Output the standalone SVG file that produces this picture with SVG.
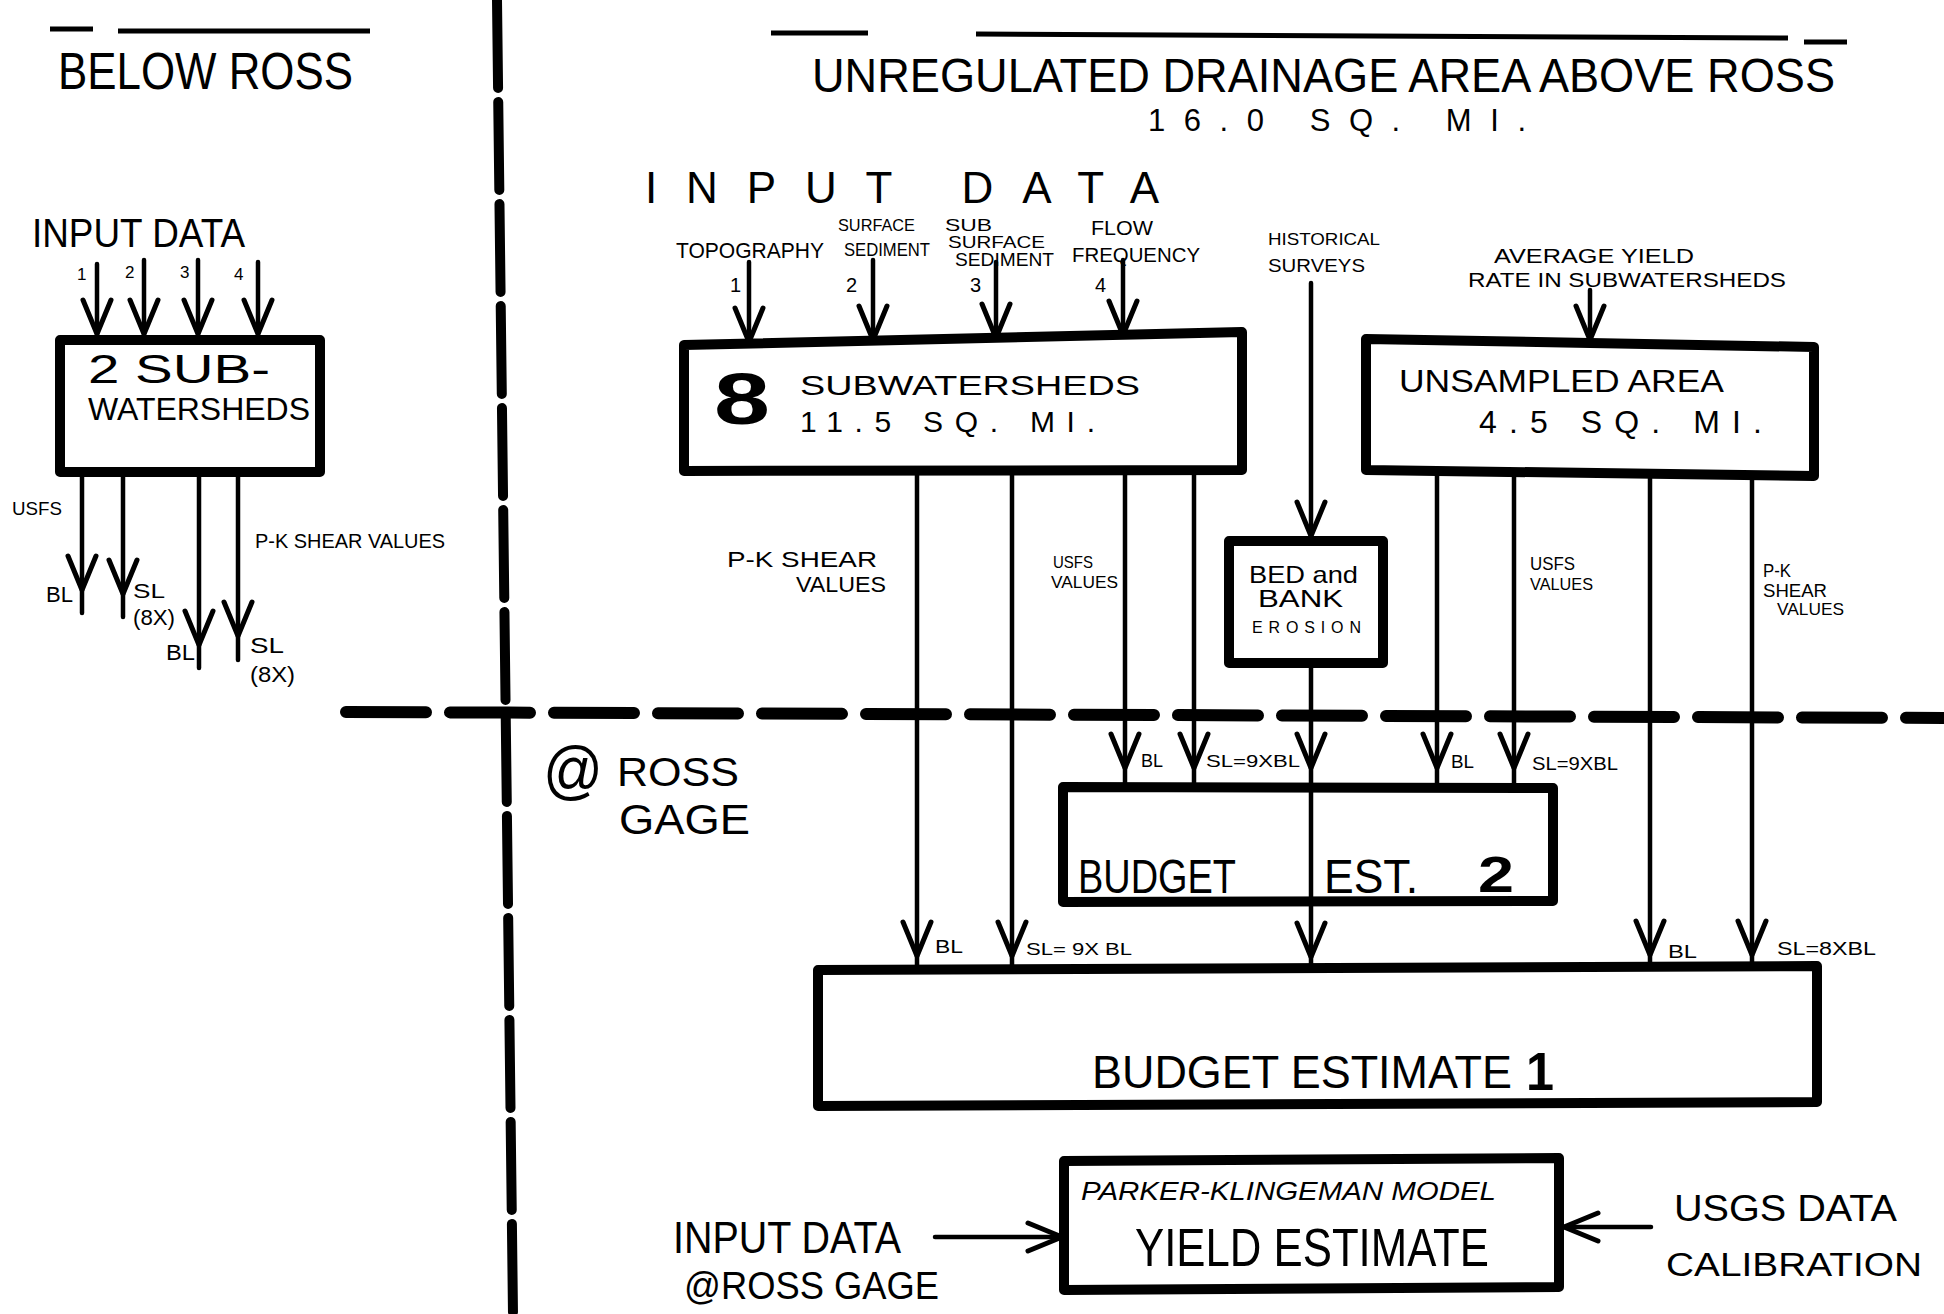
<svg xmlns="http://www.w3.org/2000/svg" width="1944" height="1314" viewBox="0 0 1944 1314">
<defs>
<style>
.t{font-family:"Liberation Sans",Arial,sans-serif;fill:#000;}
.b{font-weight:bold;}
.box{fill:none;stroke:#000;stroke-width:10;stroke-linejoin:round;stroke-linecap:round;}
.ln{fill:none;stroke:#000;stroke-width:4.5;stroke-linecap:round;}
.dash{fill:none;stroke:#000;stroke-linecap:round;}
.rule{fill:none;stroke:#000;stroke-width:5;}
</style>
<marker id="v" markerUnits="userSpaceOnUse" markerWidth="60" markerHeight="60" viewBox="-50 -30 60 60" refX="0" refY="0" orient="auto" overflow="visible">
<path d="M-34,-14 L0,0 L-34,14" fill="none" stroke="#000" stroke-width="5" stroke-linecap="round" stroke-linejoin="round"/>
</marker>
</defs>
<rect width="1944" height="1314" fill="#fff"/>

<g id="dividers">
<path class="dash" d="M497,0 L513,1314" stroke-width="10" stroke-dasharray="88 14"/>
<path class="dash" d="M346,712 L1944,718" stroke-width="12" stroke-dasharray="80 24"/>
</g>

<g id="titles">
<path class="rule" d="M50,29 L93,29 M118,31 L370,31"/>
<text class="t" x="58" y="89" font-size="52" textLength="295" lengthAdjust="spacingAndGlyphs">BELOW ROSS</text>
<path class="rule" d="M771,33 L868,33 M976,34 L1788,38 M1804,42 L1847,42"/>
<text class="t" x="812" y="92" font-size="48" textLength="1023" lengthAdjust="spacingAndGlyphs">UNREGULATED DRAINAGE AREA ABOVE ROSS</text>
<text class="t" x="1148" y="131" font-size="31" textLength="378" lengthAdjust="spacing">16.0 SQ. MI.</text>
<text class="t" x="543" y="792" font-size="64" textLength="60" lengthAdjust="spacingAndGlyphs">@</text>
<text class="t" x="617" y="786" font-size="40" textLength="122" lengthAdjust="spacingAndGlyphs">ROSS</text>
<text class="t" x="619" y="834" font-size="42" textLength="131" lengthAdjust="spacingAndGlyphs">GAGE</text>
</g>

<g id="left-inputs">
<text class="t" x="32" y="247" font-size="40" textLength="213" lengthAdjust="spacingAndGlyphs">INPUT DATA</text>
<text class="t" x="77" y="280" font-size="17">1</text>
<text class="t" x="125" y="278" font-size="17">2</text>
<text class="t" x="180" y="278" font-size="17">3</text>
<text class="t" x="234" y="280" font-size="17">4</text>
</g>

<g id="node-left-subwatersheds">
<path class="box" d="M60,340 L320,340 L320,472 L60,472 Z"/>
<text class="t" x="88" y="383" font-size="40" textLength="182" lengthAdjust="spacingAndGlyphs">2 SUB-</text>
<text class="t" x="88" y="420" font-size="32" textLength="222" lengthAdjust="spacingAndGlyphs">WATERSHEDS</text>
</g>

<g id="left-outputs-labels">
<text class="t" x="12" y="515" font-size="18" textLength="50" lengthAdjust="spacingAndGlyphs">USFS</text>
<text class="t" x="255" y="548" font-size="20" textLength="190" lengthAdjust="spacingAndGlyphs">P-K SHEAR VALUES</text>
<text class="t" x="46" y="602" font-size="22" textLength="27" lengthAdjust="spacingAndGlyphs">BL</text>
<text class="t" x="133" y="598" font-size="20" textLength="32" lengthAdjust="spacingAndGlyphs">SL</text>
<text class="t" x="133" y="625" font-size="22" textLength="42" lengthAdjust="spacingAndGlyphs">(8X)</text>
<text class="t" x="166" y="660" font-size="22" textLength="29" lengthAdjust="spacingAndGlyphs">BL</text>
<text class="t" x="250" y="653" font-size="22" textLength="34" lengthAdjust="spacingAndGlyphs">SL</text>
<text class="t" x="250" y="682" font-size="22" textLength="45" lengthAdjust="spacingAndGlyphs">(8X)</text>
</g>

<g id="right-inputs">
<text class="t" x="645" y="203" font-size="44" textLength="514" lengthAdjust="spacing">INPUT DATA</text>
<text class="t" x="676" y="258" font-size="22" textLength="148" lengthAdjust="spacingAndGlyphs">TOPOGRAPHY</text>
<text class="t" x="838" y="231" font-size="17" textLength="77" lengthAdjust="spacingAndGlyphs">SURFACE</text>
<text class="t" x="844" y="256" font-size="18" textLength="86" lengthAdjust="spacingAndGlyphs">SEDIMENT</text>
<text class="t" x="945" y="231" font-size="17" textLength="47" lengthAdjust="spacingAndGlyphs">SUB</text>
<text class="t" x="948" y="248" font-size="17" textLength="97" lengthAdjust="spacingAndGlyphs">SURFACE</text>
<text class="t" x="955" y="266" font-size="18" textLength="99" lengthAdjust="spacingAndGlyphs">SEDIMENT</text>
<text class="t" x="1091" y="235" font-size="20" textLength="62" lengthAdjust="spacingAndGlyphs">FLOW</text>
<text class="t" x="1072" y="262" font-size="20" textLength="128" lengthAdjust="spacingAndGlyphs">FREQUENCY</text>
<text class="t" x="730" y="292" font-size="20">1</text>
<text class="t" x="846" y="292" font-size="20">2</text>
<text class="t" x="970" y="292" font-size="20">3</text>
<text class="t" x="1095" y="292" font-size="20">4</text>
<text class="t" x="1268" y="245" font-size="17" textLength="112" lengthAdjust="spacingAndGlyphs">HISTORICAL</text>
<text class="t" x="1268" y="272" font-size="18" textLength="97" lengthAdjust="spacingAndGlyphs">SURVEYS</text>
<text class="t" x="1494" y="263" font-size="20" textLength="200" lengthAdjust="spacingAndGlyphs">AVERAGE YIELD</text>
<text class="t" x="1468" y="287" font-size="20" textLength="318" lengthAdjust="spacingAndGlyphs">RATE IN SUBWATERSHEDS</text>
</g>

<g id="node-8-subwatersheds">
<path class="box" d="M684,345 L1242,332 L1242,470 L684,471 Z"/>
<text class="t b" x="714" y="424" font-size="72" textLength="56" lengthAdjust="spacingAndGlyphs">8</text>
<text class="t" x="800" y="395" font-size="28" textLength="340" lengthAdjust="spacingAndGlyphs">SUBWATERSHEDS</text>
<text class="t" x="800" y="432" font-size="30" textLength="295" lengthAdjust="spacing">11.5 SQ. MI.</text>
</g>

<g id="node-unsampled-area">
<path class="box" d="M1366,339 L1590,343 L1814,347 L1814,476 L1366,470 Z"/>
<text class="t" x="1399" y="392" font-size="32" textLength="325" lengthAdjust="spacingAndGlyphs">UNSAMPLED AREA</text>
<text class="t" x="1479" y="433" font-size="32" textLength="283" lengthAdjust="spacing">4.5 SQ. MI.</text>
</g>

<g id="mid-labels">
<text class="t" x="727" y="567" font-size="22" textLength="150" lengthAdjust="spacingAndGlyphs">P-K SHEAR</text>
<text class="t" x="796" y="592" font-size="22" textLength="90" lengthAdjust="spacingAndGlyphs">VALUES</text>
<text class="t" x="1053" y="568" font-size="17" textLength="40" lengthAdjust="spacingAndGlyphs">USFS</text>
<text class="t" x="1051" y="588" font-size="16" textLength="67" lengthAdjust="spacingAndGlyphs">VALUES</text>
<text class="t" x="1530" y="570" font-size="18" textLength="45" lengthAdjust="spacingAndGlyphs">USFS</text>
<text class="t" x="1530" y="590" font-size="17" textLength="63" lengthAdjust="spacingAndGlyphs">VALUES</text>
<text class="t" x="1763" y="577" font-size="18" textLength="28" lengthAdjust="spacingAndGlyphs">P-K</text>
<text class="t" x="1763" y="597" font-size="18" textLength="64" lengthAdjust="spacingAndGlyphs">SHEAR</text>
<text class="t" x="1777" y="615" font-size="17" textLength="67" lengthAdjust="spacingAndGlyphs">VALUES</text>
</g>

<g id="node-bed-bank-erosion">
<path class="box" d="M1229,541 L1383,541 L1383,663 L1229,663 Z"/>
<text class="t" x="1249" y="583" font-size="24" textLength="109" lengthAdjust="spacingAndGlyphs">BED and</text>
<text class="t" x="1258" y="607" font-size="24" textLength="85" lengthAdjust="spacingAndGlyphs">BANK</text>
<text class="t" x="1252" y="633" font-size="16" textLength="109" lengthAdjust="spacing">EROSION</text>
</g>

<g id="node-budget-est-2">
<path class="box" d="M1063,787 L1553,788 L1553,901 L1063,902 Z"/>
<text class="t" x="1078" y="893" font-size="48" textLength="158" lengthAdjust="spacingAndGlyphs">BUDGET</text>
<text class="t" x="1324" y="893" font-size="48" textLength="94" lengthAdjust="spacingAndGlyphs">EST.</text>
<text class="t b" x="1478" y="892" font-size="50" textLength="36" lengthAdjust="spacingAndGlyphs">2</text>
</g>

<g id="node-budget-estimate-1">
<path class="box" d="M818,970 L1817,966 L1817,1102 L818,1106 Z" stroke-width="12"/>
<text class="t" x="1092" y="1088" font-size="46" textLength="420" lengthAdjust="spacingAndGlyphs">BUDGET ESTIMATE</text>
<text class="t b" x="1526" y="1090" font-size="54" textLength="28" lengthAdjust="spacingAndGlyphs">1</text>
</g>

<g id="node-yield-estimate">
<path class="box" d="M1064,1161 L1559,1158 L1559,1287 L1064,1290 Z"/>
<text class="t" x="1081" y="1200" font-size="26" font-style="italic" textLength="415" lengthAdjust="spacingAndGlyphs">PARKER-KLINGEMAN MODEL</text>
<text class="t" x="1135" y="1266" font-size="54" textLength="354" lengthAdjust="spacingAndGlyphs">YIELD ESTIMATE</text>
</g>

<g id="bottom-inputs">
<text class="t" x="673" y="1253" font-size="44" textLength="228" lengthAdjust="spacingAndGlyphs">INPUT DATA</text>
<text class="t" x="684" y="1299" font-size="38" textLength="255" lengthAdjust="spacingAndGlyphs">@ROSS GAGE</text>
<text class="t" x="1674" y="1221" font-size="36" textLength="223" lengthAdjust="spacingAndGlyphs">USGS DATA</text>
<text class="t" x="1666" y="1276" font-size="34" textLength="256" lengthAdjust="spacingAndGlyphs">CALIBRATION</text>
</g>

<g id="flow-labels">
<text class="t" x="1141" y="767" font-size="18" textLength="22" lengthAdjust="spacingAndGlyphs">BL</text>
<text class="t" x="1206" y="767" font-size="17" textLength="94" lengthAdjust="spacingAndGlyphs">SL=9XBL</text>
<text class="t" x="1451" y="768" font-size="18" textLength="23" lengthAdjust="spacingAndGlyphs">BL</text>
<text class="t" x="1532" y="770" font-size="18" textLength="86" lengthAdjust="spacingAndGlyphs">SL=9XBL</text>
<text class="t" x="935" y="953" font-size="18" textLength="28" lengthAdjust="spacingAndGlyphs">BL</text>
<text class="t" x="1026" y="955" font-size="17" textLength="106" lengthAdjust="spacingAndGlyphs">SL= 9X BL</text>
<text class="t" x="1668" y="958" font-size="18" textLength="29" lengthAdjust="spacingAndGlyphs">BL</text>
<text class="t" x="1777" y="955" font-size="18" textLength="99" lengthAdjust="spacingAndGlyphs">SL=8XBL</text>
</g>

<g id="connectors">
<path class="ln" d="M97,264 L97,334" marker-end="url(#v)"/>
<path class="ln" d="M144,260 L144,334" marker-end="url(#v)"/>
<path class="ln" d="M198,260 L198,334" marker-end="url(#v)"/>
<path class="ln" d="M258,262 L258,334" marker-end="url(#v)"/>
<path class="ln" d="M82,477 L82,590 L82,613" marker-mid="url(#v)"/>
<path class="ln" d="M123,477 L123,594 L123,617" marker-mid="url(#v)"/>
<path class="ln" d="M199,477 L199,645 L199,668" marker-mid="url(#v)"/>
<path class="ln" d="M238,477 L238,636 L238,660" marker-mid="url(#v)"/>

<path class="ln" d="M749,262 L749,342" marker-end="url(#v)"/>
<path class="ln" d="M873,260 L873,340" marker-end="url(#v)"/>
<path class="ln" d="M996,262 L996,338" marker-end="url(#v)"/>
<path class="ln" d="M1123,260 L1123,335" marker-end="url(#v)"/>
<path class="ln" d="M1590,290 L1590,340" marker-end="url(#v)"/>
<path class="ln" d="M1311,283 L1311,536" marker-end="url(#v)"/>
<path class="ln" d="M1311,668 L1311,768 L1311,786" marker-mid="url(#v)"/>
<path class="ln" d="M1311,790 L1311,957 L1311,968" marker-mid="url(#v)"/>

<path class="ln" d="M917,474 L917,956 L917,969" marker-mid="url(#v)"/>
<path class="ln" d="M1012,474 L1012,956 L1012,969" marker-mid="url(#v)"/>
<path class="ln" d="M1125,472 L1125,768 L1125,786" marker-mid="url(#v)"/>
<path class="ln" d="M1194,472 L1194,768 L1194,786" marker-mid="url(#v)"/>
<path class="ln" d="M1437,473 L1437,768 L1437,786" marker-mid="url(#v)"/>
<path class="ln" d="M1514,474 L1514,768 L1514,787" marker-mid="url(#v)"/>
<path class="ln" d="M1650,476 L1650,955 L1650,966" marker-mid="url(#v)"/>
<path class="ln" d="M1752,477 L1752,955 L1752,966" marker-mid="url(#v)"/>

<path class="ln" d="M935,1237 L1062,1237" stroke-width="7" marker-end="url(#v)"/>
<path class="ln" d="M1651,1227 L1564,1227" stroke-width="7" marker-end="url(#v)"/>
</g>
</svg>
